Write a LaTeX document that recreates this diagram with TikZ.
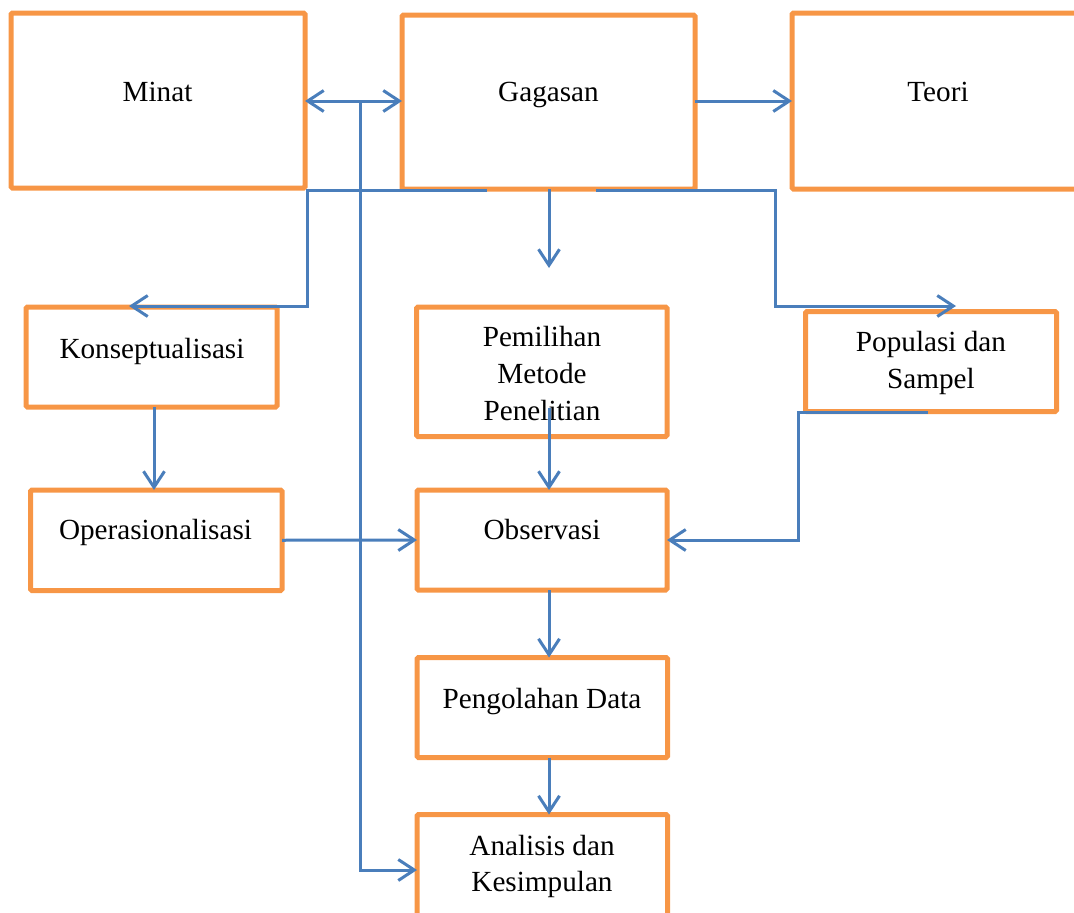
\documentclass[tikz,border=0pt]{standalone}
\usepackage{fontspec}
\setmainfont{Liberation Serif}
\usetikzlibrary{arrows.meta,calc}
\definecolor{boxorange}{HTML}{F79646}
\definecolor{linkblue}{HTML}{4A7EBB}
\begin{document}
\begin{tikzpicture}[x=1pt,y=-1pt,
  box/.style={draw=boxorange,line width=5pt,rounded corners=1.5pt,inner sep=0pt,outer sep=0pt},
  lbl/.style={anchor=base,inner sep=0pt,font=\fontsize{29.2}{37}\selectfont},
  conn/.style={draw=linkblue,line width=3pt},
  >={Straight Barb[length=16pt,width=21pt]}]
\useasboundingbox (0,0) rectangle (1074,913);
\begin{scope}
\clip (0,0) rectangle (1074,913);
% boxes
\node[box,minimum width=294pt,minimum height=175pt] (minat) at (158,100.5) {};
\node[box,minimum width=293pt,minimum height=174pt] (gagasan) at (548.5,102) {};
\node[box,minimum width=292pt,minimum height=176pt] (teori) at (938,101) {};
\node[box,minimum width=251pt,minimum height=100pt] (konsep) at (151.5,357) {};
\node[box,minimum width=250.5pt,minimum height=129.5pt] (pemilihan) at (541.75,371.75) {};
\node[box,minimum width=251pt,minimum height=100pt] (popul) at (931,361.5) {};
\node[box,minimum width=251.5pt,minimum height=100.5pt] (operas) at (156.25,540.25) {};
\node[box,minimum width=250pt,minimum height=100pt] (obs) at (542,540) {};
\node[box,minimum width=250.5pt,minimum height=100pt] (peng) at (542.25,707.5) {};
\node[box,minimum width=250.5pt,minimum height=115.5pt] (analisis) at (542.25,872.25) {};
\end{scope}
% texts
\node[lbl] (tminat) at (157.5,101.5) {Minat};
\node[lbl] (tgagasan) at (548.5,101.5) {Gagasan};
\node[lbl] (tteori) at (938,101.5) {Teori};
\node[lbl] (tkonsep) at (152,358.5) {Konseptualisasi};
\node[lbl] (tpem1) at (542,346.5) {Pemilihan};
\node[lbl] (tpem2) at (542,383.5) {Metode};
\node[lbl] (tpem3) at (542,420) {Penelitian};
\node[lbl] (tpop1) at (931,351.5) {Populasi dan};
\node[lbl] (tpop2) at (931,388.5) {Sampel};
\node[lbl] (toperas) at (155.5,539) {Operasionalisasi};
\node[lbl] (tobs) at (542,539) {Observasi};
\node[lbl] (tpeng) at (542,708) {Pengolahan Data};
\node[lbl] (tana1) at (542,855) {Analisis dan};
\node[lbl] (tana2) at (542,891) {Kesimpulan};
% connector points
\coordinate (vtop) at (360,101);
\coordinate (ay) at (0,870);
\coordinate (gl) at (487,190);
\coordinate (lx) at (307,0);
\coordinate (kx) at (129,0);
\coordinate (gr) at (596,190);
\coordinate (rx) at (775,0);
\coordinate (px) at (956,306);
\coordinate (mx) at (549,268);
\coordinate (pm) at (549,408);
\coordinate (kc) at (154,0);
\coordinate (pb) at (928,412);
\coordinate (qx) at (798,0);
% connectors
\draw[conn,<->] (minat.east |- vtop) -- (gagasan.west |- vtop);
\draw[conn,->] (vtop) -- (vtop |- ay) -- (analisis.west |- ay);
\draw[conn,->] (gagasan.east |- vtop) -- (teori.west |- vtop);
\draw[conn,->] (gl) -- (lx |- gl) -- (lx |- px) -- (kx |- px);
\draw[conn,->] (gr) -- (rx |- gr) -- (rx |- px) -- (px);
\draw[conn,->] (gagasan.south -| mx) -- (mx);
\draw[conn,->] (pm) -- (obs.north -| pm);
\draw[conn,->] (obs.south -| pm) -- (peng.north -| pm);
\draw[conn,->] (peng.south -| pm) -- (analisis.north -| pm);
\draw[conn,->] (konsep.south -| kc) -- (operas.north -| kc);
\draw[conn,->] (operas.east) -- (obs.west);
\draw[conn,->] (pb) -- (qx |- pb) -- (qx |- obs.east) -- (obs.east);
\end{tikzpicture}
\end{document}
